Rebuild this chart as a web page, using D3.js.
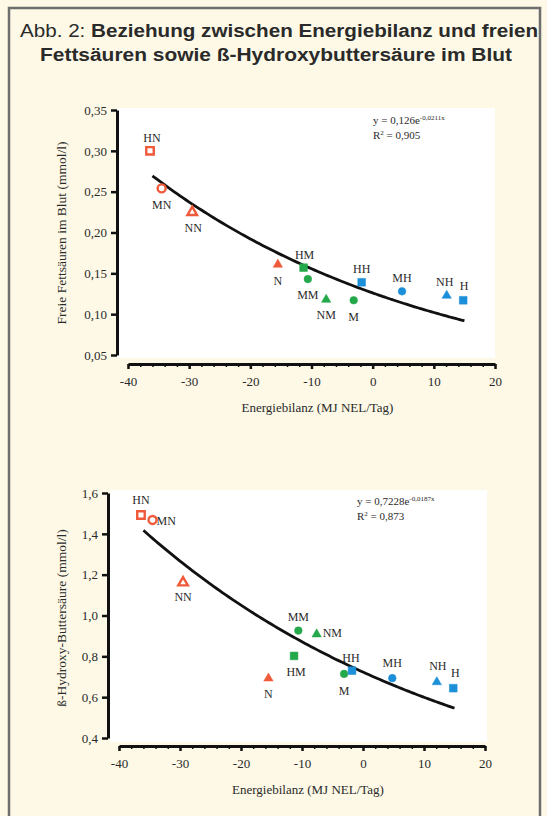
<!DOCTYPE html>
<html>
<head>
<meta charset="utf-8">
<script src="https://cdn.jsdelivr.net/npm/d3@7"></script>
<style>
  body { margin: 0; background: #fdf9e6; }
  svg text { fill: #2a2a2a; }
</style>
</head>
<body>
<div class="chart"></div>
<script>
// groups (feeding level / period), energy balance and blood values
var groups = ["HN", "MN", "NN", "N", "HM", "MM", "NM", "M", "HH", "MH", "NH", "H"];
var energy = [-36.4, -34.5, -29.5, -15.5, -11.3, -10.6, -7.6, -3.1, -1.8, 4.8, 12.1, 14.8];
var ffa = [0.300, 0.254, 0.226, 0.162, 0.157, 0.143, 0.119, 0.117, 0.139, 0.128, 0.124, 0.117];
var bhb = [1.492, 1.468, 1.166, 0.697, 0.802, 0.926, 0.913, 0.714, 0.730, 0.693, 0.679, 0.644];
var hollow = ["HN", "MN", "NN"];

// trend lines y = a * e^(b x) as printed in the chart
var fitA = [0.126, 0.7228];
var fitB = [-0.0211, -0.0187];
var fitR2 = ["0,905", "0,873"];
var fitRange = [-36, 15];

var xTicks = [-40, -30, -20, -10, 0, 10, 20];
var ffaTicks = [0.05, 0.10, 0.15, 0.20, 0.25, 0.30, 0.35];
var bhbTicks = [0.4, 0.6, 0.8, 1.0, 1.2, 1.4, 1.6];

var colors = { N: "#ef5a3a", M: "#23a84a", H: "#1b8fd8" };
var shapes = { H: d3.symbolSquare, M: d3.symbolCircle, N: d3.symbolTriangle };

var de = d3.formatLocale({ decimal: ",", thousands: ".", grouping: [3], currency: ["", " €"], minus: "-" });

var svgWidth = 547;
var svgHeight = 816;

var svg = d3.select(".chart").append("svg")
  .attr("width", svgWidth)
  .attr("height", svgHeight);

// frame
svg.append("rect")
  .attr("x", 9).attr("y", 8)
  .attr("width", 531).attr("height", 830)
  .attr("fill", "#fdf9e6")
  .attr("stroke", "#6e6e6e")
  .attr("stroke-width", 2.5);

// title
var t1 = svg.append("text")
  .attr("x", 20).attr("y", 37)
  .attr("textLength", 518).attr("lengthAdjust", "spacingAndGlyphs")
  .style("font-family", "'Liberation Sans', Arial, sans-serif")
  .style("font-size", "18px");
t1.append("tspan").text("Abb. 2: ");
t1.append("tspan").style("font-weight", "bold").text("Beziehung zwischen Energiebilanz und freien");

svg.append("text")
  .attr("x", 40).attr("y", 61)
  .attr("textLength", 472).attr("lengthAdjust", "spacingAndGlyphs")
  .style("font-family", "'Liberation Sans', Arial, sans-serif")
  .style("font-size", "18px")
  .style("font-weight", "bold")
  .text("Fettsäuren sowie ß-Hydroxybuttersäure im Blut");

// label offsets next to each marker [dx, dy, anchor]
var labelsTop = [[2, -13, "middle"], [0, 17, "middle"], [1, 17, "middle"], [0, 17, "middle"],
  [1, -13, "middle"], [0, 16, "middle"], [0, 16, "middle"], [0, 17, "middle"],
  [0, -13, "middle"], [0, -13, "middle"], [-2, -13, "middle"], [1, -14, "middle"]];
var labelsBottom = [[0, -15, "middle"], [4, 1, "start"], [0, 15, "middle"], [0, 17, "middle"],
  [2, 16, "middle"], [0, -14, "middle"], [6, 0, "start"], [0, 17, "middle"],
  [-1, -13, "middle"], [0, -15, "middle"], [1, -15, "middle"], [2, -15, "middle"]];

var panels = [
  { values: ffa, ticks: ffaTicks, yDomain: [0.05, 0.35], fmt: de.format(".2f"),
    box: { x0: 117, x1: 495, y0: 108, y1: 358 },
    xRange: [128, 495], yRange: [355, 110], xAxisY: 364, yAxisX: 117,
    yTitle: "Freie Fettsäuren im Blut (mmol/l)", yTitleY: 233,
    eq: [373, 124], labels: labelsTop, fit: 0 },
  { values: bhb, ticks: bhbTicks, yDomain: [0.4, 1.6], fmt: de.format(".1f"),
    box: { x0: 110, x1: 487, y0: 490, y1: 742 },
    xRange: [119, 485], yRange: [738, 493], xAxisY: 746, yAxisX: 108,
    yTitle: "ß-Hydroxy-Buttersäure (mmol/l)", yTitleY: 618,
    eq: [357, 505], labels: labelsBottom, fit: 1 }
];

var serif = "'Liberation Serif', 'Times New Roman', serif";

panels.forEach(function(p) {
  var x = d3.scaleLinear().domain([-40, 20]).range(p.xRange);
  var y = d3.scaleLinear().domain(p.yDomain).range(p.yRange);

  var g = svg.append("g");

  g.append("rect")
    .attr("x", p.box.x0).attr("y", p.box.y0)
    .attr("width", p.box.x1 - p.box.x0).attr("height", p.box.y1 - p.box.y0)
    .attr("fill", "#ffffff");

  // y axis
  var yAxis = g.append("g")
    .attr("transform", "translate(" + p.yAxisX + ",0)")
    .call(d3.axisLeft(y).tickValues(p.ticks).tickFormat(p.fmt).tickSize(6).tickSizeOuter(0).tickPadding(4));
  yAxis.select(".domain").attr("stroke", "#111").attr("stroke-width", 3);
  yAxis.selectAll(".tick line").attr("stroke", "#111").attr("stroke-width", 2.5);
  yAxis.selectAll(".tick text")
    .style("font-family", serif).style("font-size", "13px").attr("fill", "#2a2a2a");

  // x axis: minor ticks every 2, labelled ticks every 10
  var xMinor = g.append("g")
    .attr("transform", "translate(0," + p.xAxisY + ")")
    .call(d3.axisBottom(x).tickValues(d3.range(-40, 21, 2)).tickFormat("").tickSize(3).tickSizeOuter(0));
  xMinor.select(".domain").attr("stroke", "#111").attr("stroke-width", 3);
  xMinor.selectAll(".tick line").attr("stroke", "#111").attr("stroke-width", 1.5);

  var xAxis = g.append("g")
    .attr("transform", "translate(0," + p.xAxisY + ")")
    .call(d3.axisBottom(x).tickValues(xTicks).tickFormat(de.format("d")).tickSize(5).tickSizeOuter(0).tickPadding(8));
  xAxis.select(".domain").remove();
  xAxis.selectAll(".tick line").attr("stroke", "#111").attr("stroke-width", 2.5);
  xAxis.selectAll(".tick text")
    .style("font-family", serif).style("font-size", "13px").attr("fill", "#2a2a2a");

  // axis titles
  g.append("text")
    .attr("transform", "translate(66," + p.yTitleY + ") rotate(-90)")
    .attr("text-anchor", "middle")
    .style("font-family", serif).style("font-size", "13.5px").attr("fill", "#333")
    .text(p.yTitle);

  g.append("text")
    .attr("x", (p.xRange[0] + p.xRange[1]) / 2 + 6)
    .attr("y", p.xAxisY + 48)
    .attr("text-anchor", "middle")
    .style("font-family", serif).style("font-size", "13px").attr("fill", "#333")
    .text("Energiebilanz (MJ NEL/Tag)");

  // trend line from the printed equation
  var fx = d3.range(fitRange[0], fitRange[1] + 0.01, 0.5);
  var line = d3.line()
    .x(function(d) { return x(d); })
    .y(function(d) { return y(fitA[p.fit] * Math.exp(fitB[p.fit] * d)); })
    .curve(d3.curveBasis);
  g.append("path")
    .datum(fx)
    .attr("d", line)
    .attr("fill", "none")
    .attr("stroke", "#111")
    .attr("stroke-width", 2.8);

  // equation
  var eq = g.append("text")
    .attr("x", p.eq[0]).attr("y", p.eq[1])
    .style("font-family", serif).style("font-size", "11px").attr("fill", "#333");
  eq.append("tspan").text("y = " + de.format("")(fitA[p.fit]) + "e");
  eq.append("tspan").attr("dy", -4).style("font-size", "7px")
    .text(de.format("")(fitB[p.fit]) + "x");
  var r2 = g.append("text")
    .attr("x", p.eq[0]).attr("y", p.eq[1] + 15)
    .style("font-family", serif).style("font-size", "11px").attr("fill", "#333");
  r2.append("tspan").text("R");
  r2.append("tspan").attr("dy", -4).style("font-size", "7px").text("2");
  r2.append("tspan").attr("dy", 4).text(" = " + fitR2[p.fit]);

  // points
  groups.forEach(function(name, i) {
    var col = colors[name[name.length - 1]];
    var isHollow = hollow.indexOf(name) >= 0;
    var shape = shapes[name[0]];
    var size = shape === d3.symbolSquare ? 60 : (shape === d3.symbolCircle ? 46 : 38);
    if (isHollow) size = shape === d3.symbolTriangle ? 40 : (shape === d3.symbolSquare ? 56 : 50);
    var px = x(energy[i]);
    var py = y(p.values[i]);
    g.append("path")
      .attr("d", d3.symbol().type(shape).size(size)())
      .attr("transform", "translate(" + px + "," + (shape === d3.symbolTriangle ? py + 1 : py) + ")")
      .attr("fill", isHollow ? "#ffffff" : col)
      .attr("stroke", col)
      .attr("stroke-width", isHollow ? 2.4 : 0.5);

    var lb = p.labels[i];
    g.append("text")
      .attr("x", px + lb[0])
      .attr("y", py + lb[1] + 4)
      .attr("text-anchor", lb[2])
      .style("font-family", serif).style("font-size", "12px").attr("fill", "#3a3a3a")
      .text(name);
  });
});
</script>
</body>
</html>
